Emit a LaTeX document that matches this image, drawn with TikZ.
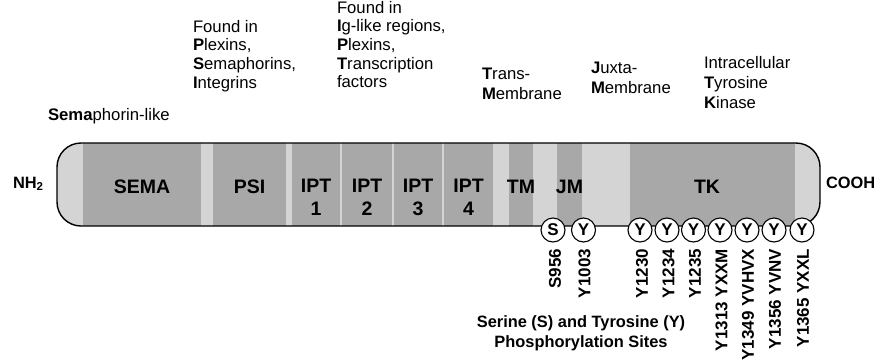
\documentclass[tikz,border=0pt]{standalone}
\usepackage{fontspec}
\setmainfont{Liberation Sans}
\definecolor{darkseg}{RGB}{168,168,168}
\definecolor{lightseg}{RGB}{212,212,212}
\begin{document}
\begin{tikzpicture}[x=1pt,y=-1pt,
  toptext/.style={inner sep=0pt,outer sep=0pt,align=left,font=\fontsize{16.7}{18.7}\selectfont},
  toptextb/.style={inner sep=0pt,outer sep=0pt,align=left,font=\fontsize{16.7}{20.3}\selectfont},
  seglabel/.style={inner sep=0pt,outer sep=0pt,align=center,font=\fontsize{19.5}{23.5}\selectfont\bfseries},
  endlabel/.style={inner sep=0pt,outer sep=0pt,font=\fontsize{16.4}{19}\selectfont\bfseries},
  site/.style={circle,draw=black,line width=1.1pt,fill=white,minimum size=24pt,inner sep=0pt,font=\fontsize{17}{19}\selectfont\bfseries},
  vlabel/.style={rotate=90,anchor=east,inner sep=0pt,outer sep=0pt,font=\fontsize{17}{19}\selectfont\bfseries},
  caption/.style={inner sep=0pt,outer sep=0pt,align=center,font=\fontsize{16.4}{20}\selectfont\bfseries}
]
\useasboundingbox (0,0) rectangle (876,360);

% --- bar ---
\fill[lightseg,rounded corners=24pt] (57,143) rectangle (820,226);
\fill[darkseg] (83,143) rectangle (201,226);
\fill[darkseg] (213,143) rectangle (286,226);
\fill[darkseg] (292,143) rectangle (340.3,226);
\fill[darkseg] (342,143) rectangle (392.3,226);
\fill[darkseg] (394,143) rectangle (442.3,226);
\fill[darkseg] (444,143) rectangle (493,226);
\fill[darkseg] (509,143) rectangle (533,226);
\fill[darkseg] (557,143) rectangle (582,226);
\fill[darkseg] (630,143) rectangle (795,226);
\draw[black,line width=1.4pt,rounded corners=24pt] (57,143) rectangle (820,226);

% --- segment labels ---
\node[seglabel,anchor=base] (sema) at (142,193) {SEMA};
\node[seglabel,anchor=base] (psi) at (249.5,193) {PSI};
\node[seglabel,anchor=north] (ipt1) at (316,179) {IPT\\1};
\node[seglabel,anchor=north] (ipt2) at (367,179) {IPT\\2};
\node[seglabel,anchor=north] (ipt3) at (418,179) {IPT\\3};
\node[seglabel,anchor=north] (ipt4) at (468.5,179) {IPT\\4};
\node[seglabel,anchor=base] (tm) at (521,193) {TM};
\node[seglabel,anchor=base] (jm) at (569.5,193) {JM};
\node[seglabel,anchor=base] (tk) at (707,193) {TK};

% --- ends ---
\node[endlabel,anchor=base west] (nh2) at (13,188) {NH\textsubscript{2}};
\node[endlabel,anchor=base west] (cooh) at (826,188) {COOH};

% --- top descriptions ---
\node[toptext,anchor=base west] (semalike) at (48,120) {\textbf{Sema}phorin-like};
\node[toptext,anchor=north west] (psitext) at (193,20) {Found in\\\textbf{P}lexins,\\\textbf{S}emaphorins,\\\textbf{I}ntegrins};
\node[toptext,anchor=north west] (ipttext) at (337,1) {Found in\\\textbf{I}g-like regions,\\\textbf{P}lexins,\\\textbf{T}ranscription\\factors};
\node[toptextb,anchor=north west] (tmtext) at (482,68) {\textbf{T}rans-\\\textbf{M}embrane};
\node[toptextb,anchor=north west] (jmtext) at (591,62) {\textbf{J}uxta-\\\textbf{M}embrane};
\node[toptextb,anchor=north west] (tktext) at (704,56) {Intracellular\\\textbf{T}yrosine\\\textbf{K}inase};

% --- phosphorylation sites ---
\node[site] (s956) at (553,230) {S};
\node[site] (y1003) at (583.5,230) {Y};
\node[site] (y1230) at (640,230) {Y};
\node[site] (y1234) at (667,230) {Y};
\node[site] (y1235) at (693.5,230) {Y};
\node[site] (y1313) at (720,230) {Y};
\node[site] (y1349) at (747,230) {Y};
\node[site] (y1356) at (774,230) {Y};
\node[site] (y1365) at (802,230) {Y};

\node[vlabel] (ls956) at (555,249) {S956};
\node[vlabel] (ly1003) at (584.5,249) {Y1003};
\node[vlabel] (ly1230) at (642,249) {Y1230};
\node[vlabel] (ly1234) at (668.5,249) {Y1234};
\node[vlabel] (ly1235) at (695,249) {Y1235};
\node[vlabel] (ly1313) at (721.5,249) {Y1313 YXXM};
\node[vlabel] (ly1349) at (748,249) {Y1349 YVHVX};
\node[vlabel] (ly1356) at (775,249) {Y1356 YVNV};
\node[vlabel] (ly1365) at (803,249) {Y1365 YXXL};

\node[caption,anchor=north] (cap) at (581,316) {Serine (S) and Tyrosine (Y)\\Phosphorylation Sites};
\end{tikzpicture}
\end{document}
